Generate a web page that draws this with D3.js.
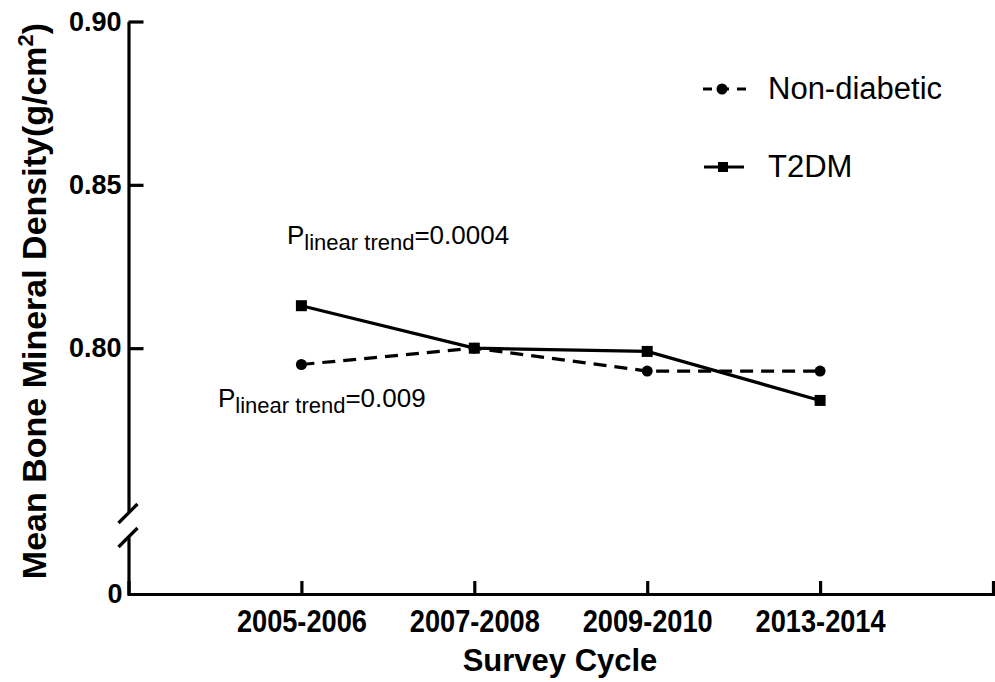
<!doctype html>
<html>
<head>
<meta charset="utf-8">
<script src="https://d3js.org/d3.v7.min.js"></script>
<style>
  body { margin: 0; background: #fff; }
  text { font-family: "Liberation Sans", Arial, sans-serif; fill: #000; }
</style>
</head>
<body>
<svg width="995" height="682"></svg>
<script>
// data
var cycles = ["2005-2006", "2007-2008", "2009-2010", "2013-2014"];
var nonDiabetic = [0.795, 0.800, 0.793, 0.793];
var t2dm = [0.813, 0.800, 0.799, 0.784];
var yTicks = [0.80, 0.85, 0.90];
var yTickLabels = ["0.80", "0.85", "0.90"];
var seriesNames = ["Non-diabetic", "T2DM"];
var trendLabels = ["=0.0004", "=0.009"];

var svg = d3.select("svg");

var axisX = 128.5, axisBottom = 594, axisRight = 993;

var x = d3.scalePoint().domain(cycles).range([axisX, axisRight]).padding(1);
// upper part of the broken y axis
var y = d3.scaleLinear().domain([0.75, 0.90]).range([511.5, 21.5]);
// lower part, only the zero
var y0 = d3.scaleLinear().domain([0, 0.05]).range([axisBottom, 537]);

// upper y axis
var gy = svg.append("g")
    .attr("transform", "translate(" + axisX + ",0)")
    .call(d3.axisLeft(y).tickValues(yTicks)
        .tickFormat(function(d, i) { return yTickLabels[i]; })
        .tickSizeInner(-15).tickSizeOuter(0).tickPadding(7));

// lower y axis
var gy0 = svg.append("g")
    .attr("transform", "translate(" + axisX + ",0)")
    .call(d3.axisLeft(y0).tickValues([0]).tickFormat(d3.format("d"))
        .tickSizeInner(0).tickSizeOuter(0).tickPadding(6));

[gy, gy0].forEach(function(g) {
  g.selectAll("path, line").attr("stroke", "#000").attr("stroke-width", 3.2);
  g.selectAll("text").attr("font-size", "27px").attr("font-weight", "bold")
    .attr("font-family", "Liberation Sans, Arial, sans-serif").attr("fill", "#000");
});

// break marks
[513, 537].forEach(function(cy) {
  svg.append("line")
     .attr("x1", axisX - 10).attr("y1", cy + 10)
     .attr("x2", axisX + 9).attr("y2", cy - 9)
     .attr("stroke", "#000").attr("stroke-width", 3.2);
});

// x axis, ticks pointing up
var gx = svg.append("g")
    .attr("transform", "translate(0," + axisBottom + ")")
    .call(d3.axisBottom(x).tickSizeInner(-13).tickSizeOuter(-13).tickPadding(15));
gx.selectAll("path, line").attr("stroke", "#000").attr("stroke-width", 3.2);
gx.selectAll("text")
  .attr("font-size", "32px").attr("font-weight", "bold")
  .attr("font-family", "Liberation Sans, Arial, sans-serif").attr("fill", "#000")
  .attr("transform", "scale(0.85,1)");

// axis titles
svg.append("text")
   .attr("x", 560).attr("y", 671)
   .attr("text-anchor", "middle")
   .attr("font-size", "31px").attr("font-weight", "bold")
   .text("Survey Cycle");

var yt = svg.append("text")
   .attr("transform", "translate(46,301) rotate(-90)")
   .attr("text-anchor", "middle")
   .attr("font-size", "34px").attr("font-weight", "bold");
yt.append("tspan").text("Mean Bone Mineral Density(g/cm");
yt.append("tspan").attr("dy", -13).attr("font-size", "22px").text("2");
yt.append("tspan").attr("dy", 13).text(")");

// lines
var line = d3.line()
    .x(function(d, i) { return x(cycles[i]); })
    .y(function(d) { return y(d); });

svg.append("path").datum(nonDiabetic)
   .attr("d", line).attr("fill", "none")
   .attr("stroke", "#000").attr("stroke-width", 3.2)
   .attr("stroke-dasharray", "13,8");

svg.append("path").datum(t2dm)
   .attr("d", line).attr("fill", "none")
   .attr("stroke", "#000").attr("stroke-width", 3.2);

svg.selectAll(".dot").data(nonDiabetic).enter().append("circle")
   .attr("class", "dot")
   .attr("cx", function(d, i) { return x(cycles[i]); })
   .attr("cy", function(d) { return y(d); })
   .attr("r", 5.5).attr("fill", "#000");

svg.selectAll(".sq").data(t2dm).enter().append("rect")
   .attr("class", "sq")
   .attr("x", function(d, i) { return x(cycles[i]) - 5.5; })
   .attr("y", function(d) { return y(d) - 5.5; })
   .attr("width", 11).attr("height", 11).attr("fill", "#000");

// legend
var lg = svg.append("g");
lg.append("line").attr("x1", 703).attr("x2", 746).attr("y1", 89).attr("y2", 89)
  .attr("stroke", "#000").attr("stroke-width", 3.2).attr("stroke-dasharray", "9,8");
lg.append("circle").attr("cx", 722).attr("cy", 89).attr("r", 5.5).attr("fill", "#000");
lg.append("text").attr("x", 768).attr("y", 99).attr("font-size", "31px").text(seriesNames[0]);

lg.append("line").attr("x1", 704).attr("x2", 744).attr("y1", 167).attr("y2", 167)
  .attr("stroke", "#000").attr("stroke-width", 3.2);
lg.append("rect").attr("x", 718).attr("y", 162).attr("width", 10).attr("height", 10).attr("fill", "#000");
lg.append("text").attr("x", 768).attr("y", 177).attr("font-size", "31px").text(seriesNames[1]);

// trend annotations
function trend(px, py, val) {
  var t = svg.append("text").attr("x", px).attr("y", py).attr("font-size", "26px");
  t.append("tspan").text("P");
  t.append("tspan").attr("dy", 6).attr("font-size", "22px").text("linear trend");
  t.append("tspan").attr("dy", -6).text(val);
}
trend(287, 244, trendLabels[0]);
trend(218, 407, trendLabels[1]);
</script>
</body>
</html>
